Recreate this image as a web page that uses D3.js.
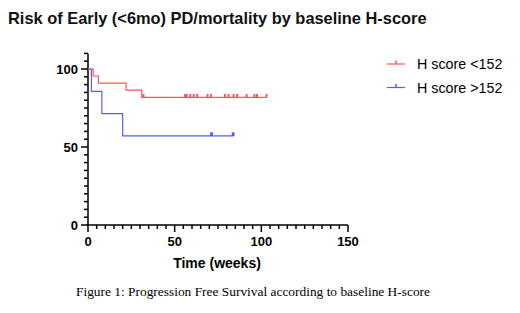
<!DOCTYPE html>
<html>
<head>
<meta charset="utf-8">
<script src="https://cdn.jsdelivr.net/npm/d3@7"></script>
<style>
  body { margin: 0; background: #fff; }
  svg { display: block; }
</style>
</head>
<body>
<div id="chart-area"></div>
<script>
var width = 520,
	height = 313;

// step curves (time in weeks, survival %)
let redTimes = [0, 3, 6, 22, 31];
let redSurv = [100, 95.5, 90.9, 86.4, 81.8];
let redEnd = 103;
let redCensor = [32, 56, 57, 59, 61, 63, 69, 71, 79, 81, 84, 86, 91.5, 96, 97.5, 103];

let blueTimes = [0, 2, 8, 20];
let blueSurv = [100, 85.7, 71.4, 57.1];
let blueEnd = 84;
let blueCensor = [71, 71.5, 83.5, 84];

let seriesNames = ["H score <152", "H score >152"];
let xTicks = [0, 50, 100, 150];
let yTicks = [0, 50, 100];

let red = "#ff5555",
	blue = "#5a5aff";

let svg = d3.select("#chart-area")
	.append("svg")
	.attr("width", width)
	.attr("height", height);

let xScale = d3.scaleLinear()
	.domain([0, 150])
	.range([88, 348]);

let yScale = d3.scaleLinear()
	.domain([0, 110])
	.range([225, 53.4]);

// title
svg.append("text")
	.text("Risk of Early (<6mo) PD/mortality by baseline H-score")
	.attr("x", 8)
	.attr("y", 24)
	.style("font-family", "Liberation Sans, Arial, sans-serif")
	.style("font-weight", "bold")
	.style("font-size", "16.4px")
	.style("fill", "#111");

// minor ticks
let minorX = d3.range(0, 151, 5);
let minorY = d3.range(0, 111, 5);

let axisG = svg.append("g");

axisG.selectAll(".mx")
	.data(minorX)
	.enter()
	.append("line")
	.attr("x1", function(d){ return xScale(d); })
	.attr("x2", function(d){ return xScale(d); })
	.attr("y1", 225)
	.attr("y2", function(d){ return d % 50 == 0 ? 232 : 229; })
	.attr("stroke", "#000")
	.attr("stroke-width", 1.5);

axisG.selectAll(".my")
	.data(minorY)
	.enter()
	.append("line")
	.attr("y1", function(d){ return yScale(d); })
	.attr("y2", function(d){ return yScale(d); })
	.attr("x1", 88)
	.attr("x2", function(d){ return d % 50 == 0 ? 81 : 84; })
	.attr("stroke", "#000")
	.attr("stroke-width", 1.5);

// axis lines
axisG.append("line")
	.attr("x1", 88).attr("x2", 88)
	.attr("y1", yScale(110)).attr("y2", 225.75)
	.attr("stroke", "#000").attr("stroke-width", 1.5);
axisG.append("line")
	.attr("x1", 87.25).attr("x2", xScale(150))
	.attr("y1", 225).attr("y2", 225)
	.attr("stroke", "#000").attr("stroke-width", 1.5);

// tick labels
axisG.selectAll(".xl")
	.data(xTicks)
	.enter()
	.append("text")
	.text(function(d){ return d; })
	.attr("x", function(d){ return xScale(d); })
	.attr("y", 246)
	.attr("text-anchor", "middle")
	.style("font-family", "Liberation Sans, Arial, sans-serif")
	.style("font-weight", "bold")
	.style("font-size", "13px");

axisG.selectAll(".yl")
	.data(yTicks)
	.enter()
	.append("text")
	.text(function(d){ return d; })
	.attr("x", 78)
	.attr("y", function(d){ return yScale(d) + 4.5; })
	.attr("text-anchor", "end")
	.style("font-family", "Liberation Sans, Arial, sans-serif")
	.style("font-weight", "bold")
	.style("font-size", "13px");

svg.append("text")
	.text("Time (weeks)")
	.attr("x", 217)
	.attr("y", 268)
	.attr("text-anchor", "middle")
	.style("font-family", "Liberation Sans, Arial, sans-serif")
	.style("font-weight", "bold")
	.style("font-size", "14px");

// curves
function stepPoints(times, surv, end) {
	let pts = [];
	for (let i = 0; i < times.length; i++) {
		pts.push([times[i], surv[i]]);
	}
	pts.push([end, surv[surv.length - 1]]);
	return pts;
}

let line = d3.line()
	.x(function(d){ return xScale(d[0]); })
	.y(function(d){ return yScale(d[1]); })
	.curve(d3.curveStepAfter);

function drawSeries(times, surv, end, censor, color) {
	svg.append("path")
		.attr("d", line(stepPoints(times, surv, end)))
		.attr("fill", "none")
		.attr("stroke", color)
		.attr("stroke-width", 1.2);

	let last = surv[surv.length - 1];
	svg.selectAll(null)
		.data(censor)
		.enter()
		.append("line")
		.attr("x1", function(d){ return xScale(d); })
		.attr("x2", function(d){ return xScale(d); })
		.attr("y1", yScale(last) - 3.5)
		.attr("y2", yScale(last))
		.attr("stroke", color)
		.attr("stroke-width", 2);
}

drawSeries(redTimes, redSurv, redEnd, redCensor, red);
drawSeries(blueTimes, blueSurv, blueEnd, blueCensor, blue);

// legend
let legend = svg.selectAll(".legend")
	.data(seriesNames)
	.enter()
	.append("g")
	.attr("transform", function(d, i){ return "translate(387," + (64 + i * 23.5) + ")"; });

legend.append("line")
	.attr("x1", 0).attr("x2", 18)
	.attr("y1", 0).attr("y2", 0)
	.attr("stroke", function(d, i){ return i == 0 ? red : blue; })
	.attr("stroke-width", 1.2);
legend.append("line")
	.attr("x1", 9).attr("x2", 9)
	.attr("y1", -3.5).attr("y2", 0)
	.attr("stroke", function(d, i){ return i == 0 ? red : blue; })
	.attr("stroke-width", 1.5);
legend.append("text")
	.text(function(d){ return d; })
	.attr("x", 30)
	.attr("y", 5)
	.style("font-family", "Liberation Sans, Arial, sans-serif")
	.style("font-size", "14.3px");

// caption
svg.append("text")
	.text("Figure 1: Progression Free Survival according to baseline H-score")
	.attr("x", 253)
	.attr("y", 296)
	.attr("text-anchor", "middle")
	.style("font-family", "Liberation Serif, Times New Roman, serif")
	.style("font-size", "13.4px")
	.style("fill", "#000");
</script>
</body>
</html>
